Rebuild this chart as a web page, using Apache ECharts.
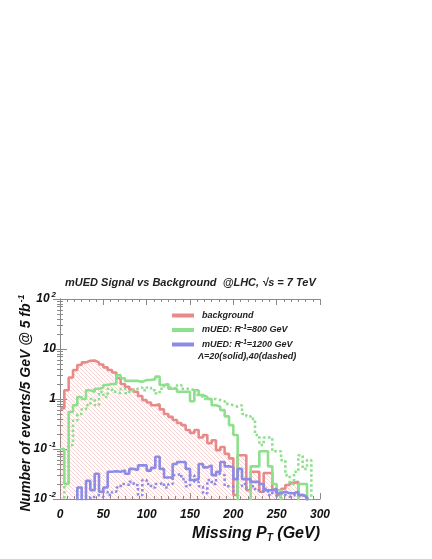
<!DOCTYPE html>
<html>
<head>
<meta charset="utf-8">
<script src="https://cdn.jsdelivr.net/npm/echarts@6/dist/echarts.min.js"></script>
<style>
  html, body { margin: 0; padding: 0; background: #fff; }
  #chart { width: 432px; height: 559px; }
</style>
</head>
<body>
<div id="chart"></div>
<script>
// 5 GeV bins, 0-300 GeV
const binWidth = 5
const xTicks = [0, 50, 100, 150, 200, 250, 300]
const yTicks = [0.01, 0.1, 1, 10, 100]

const background = [
  0.65, 1.5, 2.7, 3.8, 4.8, 5.4, 5.8, 5.9, 5.4, 4.9,
  4.3, 3.8, 3.4, 2.6, 2.0, 1.75, 1.55, 1.4, 1.15, 0.95,
  0.85, 0.75, 0.78, 0.62, 0.5, 0.44, 0.38, 0.33, 0.3, 0.24,
  0.21, 0.24, 0.17, 0.19, 0.13, 0.15, 0.095, 0.11, 0.08, 0.065,
  0.012, 0.075, 0.075, 0.015, 0.035, 0.035, 0.014, 0.033, 0.033, 0.015,
  0.012, 0.016, 0.019, 0.021, 0.022, 0.012, 0.011, 0.005, 0.005, 0.005,
]
const r800solid = [
  0.1, 0.02, 0.55, 0.75, 1.1, 1.0, 1.5, 1.4, 1.6, 1.7,
  1.9, 2.0, 2.0, 3.0, 2.6, 2.3, 2.3, 2.3, 2.2, 2.4,
  2.4, 2.5, 2.8, 1.9, 2.0, 1.6, 1.6, 1.4, 1.4, 1.4,
  0.9, 1.5, 1.2, 1.1, 1.0, 0.75, 0.7, 0.6, 0.45, 0.3,
  0.19, 0.001, 0.001, 0.001, 0.045, 0.045, 0.09, 0.09, 0.045, 0.02,
  0.015, 0.001, 0.001, 0.001, 0.001, 0.02, 0.02, 0.001, 0.001, 0.001,
]
const r800dashed = [
  0.005, 0.02, 0.12, 0.37, 0.5, 0.62, 0.75, 1.0, 0.75, 1.4,
  1.1, 1.6, 1.4, 1.3, 1.6, 1.3, 1.5, 1.6, 1.7, 1.5,
  1.7, 1.5, 1.3, 1.6, 1.9, 1.7, 1.6, 1.9, 1.6, 1.6,
  1.5, 1.2, 1.1, 1.0, 1.0, 1.0, 0.95, 0.9, 0.8, 0.75,
  0.7, 0.75, 0.5, 0.45, 0.4, 0.19, 0.12, 0.17, 0.17, 0.09,
  0.09, 0.06, 0.03, 0.02, 0.035, 0.075, 0.04, 0.06, 0.005, 0.005,
]
const r1200solid = [
  0.005, 0.005, 0.005, 0.005, 0.017, 0.008, 0.023, 0.015, 0.032, 0.014,
  0.017, 0.035, 0.036, 0.035, 0.037, 0.032, 0.04, 0.038, 0.047, 0.047,
  0.037, 0.042, 0.07, 0.04, 0.027, 0.027, 0.05, 0.055, 0.055, 0.04,
  0.024, 0.025, 0.05, 0.043, 0.047, 0.03, 0.035, 0.055, 0.045, 0.043,
  0.025, 0.04, 0.025, 0.025, 0.022, 0.022, 0.02, 0.015, 0.015, 0.016,
  0.013, 0.014, 0.013, 0.013, 0.014, 0.012, 0.011, 0.005, 0.005, 0.005,
]
const r1200dashed = [
  0.005, 0.005, 0.005, 0.005, 0.005, 0.005, 0.005, 0.011, 0.012, 0.011,
  0.014, 0.012, 0.014, 0.017, 0.02, 0.019, 0.022, 0.019, 0.012, 0.024,
  0.02, 0.017, 0.02, 0.021, 0.017, 0.02, 0.03, 0.032, 0.025, 0.018,
  0.03, 0.022, 0.018, 0.013, 0.024, 0.02, 0.032, 0.03, 0.018, 0.018,
  0.014, 0.018, 0.02, 0.016, 0.018, 0.015, 0.014, 0.016, 0.012, 0.014,
  0.011, 0.012, 0.011, 0.012, 0.011, 0.012, 0.011, 0.005, 0.005, 0.005,
]

const RED = '#e88a8a'
const GREEN = '#8ee08e'
const BLUE = '#8c8ce6'
const FONT = '"Liberation Sans", Arial, sans-serif'

// bin left edges + closing point -> step line
function toSteps(vals) {
  const pts = vals.map((v, i) => [i * binWidth, v])
  pts.push([vals.length * binWidth, vals[vals.length - 1]])
  return pts
}

// diagonal hatch for the background fill
const hatch = document.createElement('canvas')
hatch.width = 4
hatch.height = 4
const hctx = hatch.getContext('2d')
hctx.strokeStyle = 'rgba(236,140,140,0.55)'
hctx.lineWidth = 1
hctx.beginPath()
hctx.moveTo(-1, -1); hctx.lineTo(5, 5)
hctx.moveTo(-1, 3); hctx.lineTo(1, 5)
hctx.moveTo(3, -1); hctx.lineTo(5, 1)
hctx.stroke()

const bi = { fontWeight: 'bold', fontStyle: 'italic', fontFamily: FONT }

function yLabel(v) {
  const e = Math.round(Math.log10(v))
  if (e === 0) return '{n|1}'
  if (e === 1) return '{n|10}'
  return '{n|10}{e|' + (e < 0 ? '-' + (-e) : e) + '}'
}

const chart = echarts.init(document.getElementById('chart'), null, { renderer: 'canvas' })

const axisGray = '#8a8a8a'

function hist(name, data, color, dashed, extra) {
  return Object.assign({
    name,
    type: 'line',
    step: 'end',
    data: toSteps(data),
    symbol: 'none',
    clip: true,
    z: dashed ? 3 : 4,
    lineStyle: { color, width: 2.6, type: dashed ? [2.5, 2.5] : 'solid' },
    itemStyle: { color },
    animation: false,
  }, extra || {})
}

chart.setOption({
  animation: false,
  title: {
    text: 'mUED Signal vs Background  @LHC, \u221As = 7 TeV',
    left: 60, top: 272,
    textStyle: Object.assign({ fontSize: 11, color: '#222' }, bi),
  },
  grid: { left: 60, right: 112, top: 299, bottom: 60 },
  legend: {
    left: 167, top: 306,
    orient: 'vertical',
    icon: 'rect',
    itemWidth: 22, itemHeight: 4,
    itemGap: 4,
    selectedMode: false,
    data: ['background', 'R800', 'R1200'],
    formatter: n => {
      if (n === 'background') return '{t|background}'
      if (n === 'R800') return '{t|mUED: R}{s|-1}{t|=800 GeV}'
      return '{t|mUED: R}{s|-1}{t|=1200 GeV}'
    },
    textStyle: {
      color: '#222',
      padding: [0, 0, 0, 3],
      rich: {
        t: Object.assign({ fontSize: 9, lineHeight: 12 }, bi),
        s: Object.assign({ fontSize: 6.5, padding: [0, 0, 5, 0] }, bi),
      },
    },
  },
  graphic: [
    {
      type: 'text', left: 198, top: 352,
      style: Object.assign({ text: '\u039B=20(solid),40(dashed)', fontSize: 9, fill: '#222' }, bi),
    },
    {
      type: 'text', x: 26, y: 403, rotation: Math.PI / 2,
      style: {
        text: '{a|Number of events/5 GeV @ 5 fb}{s|-1}',
        align: 'center', verticalAlign: 'middle',
        rich: {
          a: Object.assign({ fontSize: 14, fill: '#111' }, bi),
          s: Object.assign({ fontSize: 9, fill: '#111', padding: [0, 0, 9, 1] }, bi),
        },
      },
    },
    {
      type: 'text', right: 112, top: 526,
      style: {
        text: '{a|Missing P}{b|T}{a| (GeV)}',
        rich: {
          a: Object.assign({ fontSize: 16, fill: '#111' }, bi),
          b: Object.assign({ fontSize: 10, fill: '#111', padding: [8, 0, 0, 0] }, bi),
        },
      },
    },
  ],
  xAxis: [
    {
      type: 'value', min: xTicks[0], max: xTicks[xTicks.length - 1], interval: 50,
      position: 'bottom',
      axisLine: { lineStyle: { color: axisGray } },
      axisTick: { inside: true, length: 6, lineStyle: { color: axisGray } },
      minorTick: { show: true, splitNumber: 6, length: 3, lineStyle: { color: axisGray } },
      splitLine: { show: false },
      axisLabel: Object.assign({ fontSize: 12, color: '#111', margin: 10 }, bi),
    },
    {
      type: 'value', min: xTicks[0], max: xTicks[xTicks.length - 1], interval: 50,
      position: 'top',
      axisLine: { lineStyle: { color: axisGray } },
      axisTick: { inside: true, length: 6, lineStyle: { color: axisGray } },
      minorTick: { show: true, splitNumber: 6, length: 3, lineStyle: { color: axisGray } },
      splitLine: { show: false },
      axisLabel: { show: false },
    },
  ],
  yAxis: [
    {
      type: 'log', logBase: 10, min: yTicks[0], max: yTicks[yTicks.length - 1],
      position: 'left',
      axisLine: { show: true, lineStyle: { color: axisGray } },
      axisTick: { show: true, inside: true, length: 7, lineStyle: { color: axisGray } },
      minorTick: { show: true, splitNumber: 9, length: 3, lineStyle: { color: axisGray } },
      splitLine: { show: false },
      axisLabel: {
        margin: 4,
        formatter: yLabel,
        rich: {
          n: Object.assign({ fontSize: 12, color: '#111' }, bi),
          e: Object.assign({ fontSize: 8, color: '#111', padding: [0, 0, 9, 2] }, bi),
        },
      },
    },
    {
      type: 'log', logBase: 10, min: yTicks[0], max: yTicks[yTicks.length - 1],
      position: 'right',
      axisLine: { show: true, lineStyle: { color: axisGray } },
      axisTick: { show: true, inside: true, length: 7, lineStyle: { color: axisGray } },
      minorTick: { show: true, splitNumber: 9, length: 3, lineStyle: { color: axisGray } },
      splitLine: { show: false },
      axisLabel: { show: false },
    },
  ],
  series: [
    hist('background', background, RED, false, {
      areaStyle: { origin: 'start', color: { image: hatch, repeat: 'repeat' } },
      z: 2,
    }),
    hist('R800', r800solid, GREEN, false),
    hist('R800 dashed', r800dashed, GREEN, true),
    hist('R1200', r1200solid, BLUE, false),
    hist('R1200 dashed', r1200dashed, BLUE, true),
  ],
})
</script>
</body>
</html>
